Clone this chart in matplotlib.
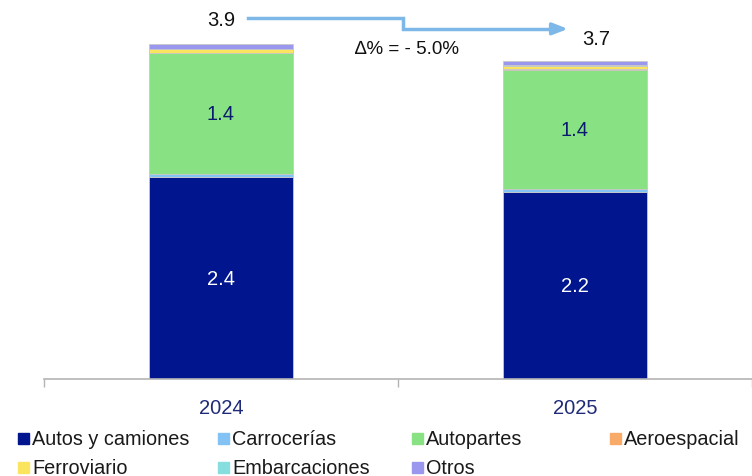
import matplotlib.pyplot as plt
from matplotlib.patches import Rectangle

plt.rcParams["font.family"] = ["Liberation Sans", "DejaVu Sans"]

# Stacked values by segment (millions)
years = ["2024", "2025"]
segments = ["Autos y camiones", "Carrocerías", "Autopartes", "Aeroespacial",
            "Ferroviario", "Embarcaciones", "Otros"]
autos = [2.36, 2.191]
carrocerias = [0.035, 0.035]
autopartes = [1.415, 1.39]
aeroespacial = [0.005, 0.005]
ferroviario = [0.047, 0.045]
embarcaciones = [0.003, 0.003]
otros = [0.055, 0.055]

colors = ["#00158E", "#82C2F5", "#88E284", "#F8AA68",
          "#FCE55E", "#86DEDE", "#9A98EE"]

series = [autos, carrocerias, autopartes, aeroespacial,
          ferroviario, embarcaciones, otros]


def main():
    fig = plt.figure(figsize=(7.52, 4.77), dpi=100)
    ax = fig.add_axes([44 / 752, 97 / 477, 708 / 752, 380 / 477])

    x = list(range(len(years)))
    bottoms = [0.0] * len(years)
    for vals, col in zip(series, colors):
        ax.bar(x, vals, width=0.405, bottom=bottoms, color=col,
               edgecolor="#C8C8C8", linewidth=0.6, zorder=2)
        bottoms = [b + v for b, v in zip(bottoms, vals)]
    totals = bottoms

    # segment labels
    for i in x:
        ax.text(i, autos[i] / 2, f"{autos[i]:.1f}", ha="center", va="center",
                color="white", fontsize=14.5)
        mid = autos[i] + carrocerias[i] + autopartes[i] / 2
        ax.text(i, mid, f"{autopartes[i]:.1f}", ha="center", va="center",
                color="#0A1A6E", fontsize=14.5)

    # totals
    ax.text(0, totals[0] + 0.29, f"{totals[0]:.1f}", ha="center",
            va="center", fontsize=14.5, color="#111111")
    ax.text(1.06, totals[1] + 0.26, f"{totals[1]:.1f}", ha="center",
            va="center", fontsize=14.5, color="#111111")

    # change arrow
    arrow_col = "#7DB8E8"
    y_hi = totals[0] + 0.30
    y_lo = totals[0] + 0.175
    ax.plot([0.076, 0.515, 0.515, 0.955], [y_hi, y_hi, y_lo, y_lo],
            color=arrow_col, lw=2.5, solid_joinstyle="miter", zorder=3)
    ax.annotate("", xy=(0.98, y_lo), xytext=(0.93, y_lo),
                arrowprops=dict(arrowstyle="-|>,head_length=0.9,head_width=0.35",
                                color=arrow_col, lw=2.5,
                                shrinkA=0, shrinkB=0))
    delta = (totals[1] / totals[0] - 1) * 100
    ax.text(0.525, totals[0] - 0.06,
            "\u2206% = - " + f"{abs(delta):.1f}%",
            ha="center", va="center", fontsize=13.5, color="#111111")

    ax.set_xlim(-0.5, 1.475)
    ax.set_ylim(0, 380 / 85.5)
    ax.set_xticks(x)
    ax.set_xticklabels(years, fontsize=14.5, color="#1F2A78")
    ax.tick_params(axis="x", which="major", length=0, pad=14)
    ax.set_xticks([-0.5, 0.5, 1.5], minor=True)
    ax.tick_params(axis="x", which="minor", length=6, color="#B4B4B4",
                   width=1, direction="out")
    ax.set_yticks([])
    for s in ["top", "right", "left"]:
        ax.spines[s].set_visible(False)
    ax.spines["bottom"].set_color("#B4B4B4")
    ax.spines["bottom"].set_linewidth(1.2)
    ax.spines["bottom"].set_zorder(3)

    # legend drawn in figure pixels
    col_x = [18, 218, 412, 610]
    row_y = [440, 469]
    for k, (name, col) in enumerate(zip(segments, colors)):
        r, c = divmod(k, 4)
        px, py = col_x[c], row_y[r]
        fig.patches.append(Rectangle(((px) / 752, 1 - (py + 5) / 477),
                                     11 / 752, 11 / 477, color=col,
                                     transform=fig.transFigure))
        fig.text((px + 14) / 752, 1 - py / 477, name, ha="left",
                 va="center", fontsize=14.3, color="#1A1A1A")

    fig.savefig("out.png", dpi=100)
    plt.close(fig)


if __name__ == "__main__":
    main()
